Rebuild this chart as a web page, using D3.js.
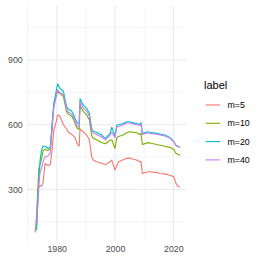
<!DOCTYPE html>
<html>
<head>
<meta charset="utf-8">
<script src="https://cdn.jsdelivr.net/npm/d3@7"></script>
<style>
  body { margin: 0; background: #fff; }
  svg { display: block; font-family: "Liberation Sans", Arial, sans-serif; }
</style>
</head>
<body>
<div id="chart"></div>
<script>
// data
var years = [1972.6, 1973.1, 1973.5, 1973.9, 1974.3, 1974.8, 1975.3, 1976, 1977, 1977.8,
  1978.4, 1979, 1979.6, 1980.3, 1981.1, 1982.3, 1983.4, 1984, 1985.1, 1985.7,
  1986.3, 1986.9, 1987.7, 1988.0, 1989.1, 1990.3, 1991.2, 1992.0, 1992.5, 1993.6,
  1995.4, 1996.7, 1998.3, 1998.9, 2000.0, 2000.6, 2001.2, 2002.8, 2004.0, 2005.0,
  2006.3, 2007.4, 2008.6, 2008.9, 2009.4, 2011.4, 2012.0, 2014.3, 2015.4, 2017.1,
  2018.8, 2020.2, 2020.9, 2021.7, 2022.3];
var m5 = [100, 180, 290, 312, 318, 315, 330, 420, 410, 415,
  480, 575, 600, 645, 640, 600, 580, 565, 556, 548,
  540, 515, 500, 580, 567, 552, 529, 451, 436, 428,
  421, 415, 428, 436, 390, 410, 428, 438, 444, 446,
  440, 436, 428, 430, 374, 382, 382, 378, 374, 372,
  366, 359, 328, 312, 312];
var m10 = [null, 130, 300, 400, 415, 440, 480, 485, 480, 490,
  590, 685, 720, 755, 745, 730, 660, 648, 640, 626,
  605, 586, 578, 688, 662, 645, 622, 548, 538, 530,
  518, 512, 528, 530, 490, 540, 545, 552, 563, 567,
  565, 563, 555, 560, 508, 517, 515, 508, 505, 500,
  495, 485, 468, 462, 459];
var m20 = [null, 110, 250, 350, 436, 482, 500, 500, 490, 495,
  600, 699, 740, 790, 768, 755, 683, 672, 664, 650,
  629, 610, 604, 720, 691, 676, 652, 583, 570, 565,
  552, 537, 560, 588, 548, 598, 600, 606, 614, 614,
  609, 605, 602, 610, 560, 567, 565, 560, 557, 552,
  541, 521, 505, 499, 497];
var m40 = [null, 140, 220, 330, 380, 399, 428, 450, 455, 470,
  580, 680, 720, 762, 748, 740, 670, 658, 650, 636,
  615, 596, 590, 705, 678, 662, 640, 573, 562, 556,
  543, 530, 552, 565, 540, 590, 592, 600, 608, 608,
  604, 600, 597, 604, 555, 563, 560, 556, 553, 548,
  538, 520, 503, 498, 495];
var labels = ["m=5", "m=10", "m=20", "m=40"];
var colors = ["#F8766D", "#7CAE00", "#00BFC4", "#C77CFF"];
var yMajor = [300, 600, 900];
var yMinor = [150, 450, 750, 1050];
var xMajor = [1980, 2000, 2020];
var xMinor = [1970, 1990, 2010];

var W = 263, H = 263;
var panel = {left: 26.7, right: 186.7, top: 5.5, bottom: 242};

var svg = d3.select("#chart").append("svg").attr("width", W).attr("height", H);

var x = d3.scaleLinear().domain([1969.7, 2024.6]).range([panel.left, panel.right]);
var y = d3.scaleLinear().domain([56, 1153]).range([panel.bottom, panel.top]);

var grid = svg.append("g");
grid.selectAll(".ymin").data(yMinor).enter().append("line")
  .attr("x1", panel.left).attr("x2", panel.right)
  .attr("y1", d => y(d)).attr("y2", d => y(d))
  .attr("stroke", "#ebebeb").attr("stroke-width", 0.55);
grid.selectAll(".xmin").data(xMinor).enter().append("line")
  .attr("y1", panel.top).attr("y2", panel.bottom)
  .attr("x1", d => x(d)).attr("x2", d => x(d))
  .attr("stroke", "#ebebeb").attr("stroke-width", 0.55);
grid.selectAll(".ymaj").data(yMajor).enter().append("line")
  .attr("x1", panel.left).attr("x2", panel.right)
  .attr("y1", d => y(d)).attr("y2", d => y(d))
  .attr("stroke", "#ebebeb").attr("stroke-width", 1.1);
grid.selectAll(".xmaj").data(xMajor).enter().append("line")
  .attr("y1", panel.top).attr("y2", panel.bottom)
  .attr("x1", d => x(d)).attr("x2", d => x(d))
  .attr("stroke", "#ebebeb").attr("stroke-width", 1.1);

// axes: tick labels only, like theme_minimal
var yAxis = d3.axisLeft(y).tickValues(yMajor).tickSize(0).tickPadding(4);
var gy = svg.append("g").attr("transform", "translate(" + panel.left + ",0)").call(yAxis);
gy.select(".domain").remove();
gy.selectAll("text").attr("fill", "#4d4d4d").style("font-size", "8.8px");

var xAxis = d3.axisBottom(x).tickValues(xMajor).tickFormat(d3.format("d")).tickSize(0).tickPadding(4);
var gx = svg.append("g").attr("transform", "translate(0," + panel.bottom + ")").call(xAxis);
gx.select(".domain").remove();
gx.selectAll("text").attr("fill", "#4d4d4d").style("font-size", "8.8px");

var series = [m5, m10, m20, m40];
var line = d3.line()
  .defined(d => d[1] != null)
  .x(d => x(d[0]))
  .y(d => y(d[1]));

series.forEach(function(vals, i) {
  var pts = years.map((yr, j) => [yr, vals[j]]);
  svg.append("path")
    .attr("d", line(pts))
    .attr("fill", "none")
    .attr("stroke", colors[i])
    .attr("stroke-width", 1.1)
    .attr("stroke-linejoin", "round");
});

// legend
var leg = svg.append("g");
leg.append("text").attr("x", 204).attr("y", 85).attr("dy", "0.35em")
  .style("font-size", "11px").attr("fill", "#000").text("label");
var items = leg.selectAll(".item").data(labels).enter().append("g")
  .attr("transform", (d, i) => "translate(0," + (105 + i * 18.3) + ")");
items.append("line").attr("x1", 205.7).attr("x2", 220).attr("y1", 0).attr("y2", 0)
  .attr("stroke", (d, i) => colors[i]).attr("stroke-width", 1.1);
items.append("text").attr("x", 227.5).attr("y", 0).attr("dy", "0.35em")
  .style("font-size", "8.8px").attr("fill", "#000").text(d => d);
</script>
</body>
</html>
